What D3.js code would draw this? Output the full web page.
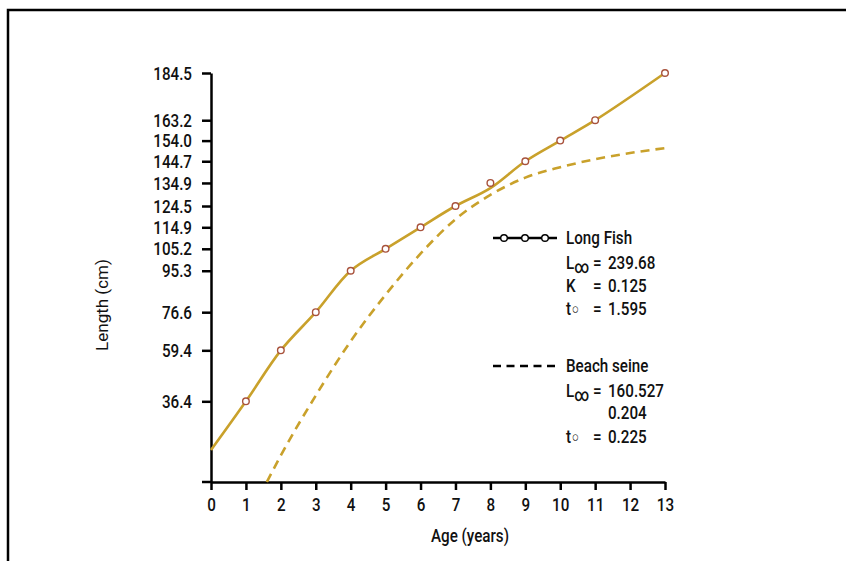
<!DOCTYPE html>
<html>
<head>
<meta charset="utf-8">
<script src="https://cdn.jsdelivr.net/npm/d3@7"></script>
<style>
  body { margin: 0; background: #fff; }
  svg text { font-family: Roboto, "Liberation Sans", Arial, sans-serif; font-weight: 500; fill: #111; }
</style>
</head>
<body>
<svg id="chart" width="846" height="561"></svg>
<script>
// Long Fish observed lengths (markers) - these are also the y tick values
const fishAges = [1, 2, 3, 4, 5, 6, 7, 8, 9, 10, 11, 13];
const fishLengths = [36.4, 59.4, 76.6, 95.3, 105.2, 114.9, 124.5, 134.9, 144.7, 154.0, 163.2, 184.5];

// Long Fish drawn curve
const fishLineAges = [0, 1, 2, 3, 4, 5, 6, 7, 8, 9, 10, 11, 13];
const fishLineLengths = [14.4, 36.4, 59.4, 76.6, 95.3, 105.2, 114.9, 124.5, 132.6, 144.7, 154.0, 163.2, 184.5];

// Beach seine curve
const seineAges = [1.6, 2, 3, 4, 5, 6, 7, 8, 9, 10, 11, 12, 13];
const seineLengths = [0, 12, 39, 63.5, 84.5, 103, 118.5, 129.5, 137.3, 142, 145.6, 148.4, 150.6];

const yTicks = [36.4, 59.4, 76.6, 95.3, 105.2, 114.9, 124.5, 134.9, 144.7, 154.0, 163.2, 184.5];
const xTicks = d3.range(0, 14);

const svg = d3.select("#chart");
const goldColor = "#c9a12b";
const markerColor = "#a8523c";
const fontSize = "19px";
const squeeze = 0.8; // fake a condensed face, no narrow font installed

// squeeze a text element horizontally while keeping it anchored at xPos
function narrow(sel, xPos) {
    sel.attr("x", xPos / squeeze).attr("transform", "scale(" + squeeze + ",1)");
    return sel;
}

// frame
svg.append("path")
    .attr("d", "M8,570 L8,10 L860,10")
    .attr("fill", "none")
    .attr("stroke", "#000")
    .attr("stroke-width", 2.5);

const x = d3.scaleLinear().domain([0, 13]).range([211, 665]);
const y = d3.scaleLinear().domain([0, 184.5]).range([482, 73]);

// axes
const yAxis = svg.append("g")
    .attr("transform", "translate(" + x(0) + ",0)")
    .call(d3.axisLeft(y).tickValues(yTicks).tickFormat(d3.format(".1f")).tickSize(9).tickPadding(10).tickSizeOuter(0));

const xAxis = svg.append("g")
    .attr("transform", "translate(0," + y(0) + ")")
    .call(d3.axisBottom(x).tickValues(xTicks).tickSize(8).tickPadding(8).tickSizeOuter(0));

// x axis line runs a little past the y axis
svg.append("line")
    .attr("x1", x(0) - 9).attr("x2", x(0))
    .attr("y1", y(0)).attr("y2", y(0))
    .attr("stroke", "#000").attr("stroke-width", 2.5);

[yAxis, xAxis].forEach(function(g) {
    g.selectAll("path, line").attr("stroke", "#000").attr("stroke-width", 2.5);
    g.selectAll("text").attr("font-size", fontSize)
        .style("font-family", "Roboto, 'Liberation Sans', Arial, sans-serif")
        .attr("fill", "#111");
});
yAxis.selectAll("text").each(function() {
    narrow(d3.select(this), -19);
});
xAxis.selectAll("text").attr("transform", "scale(" + squeeze + ",1)");

// axis titles
narrow(svg.append("text"), 470)
    .attr("y", 542)
    .attr("text-anchor", "middle")
    .attr("font-size", fontSize)
    .text("Age (years)");

svg.append("text")
    .attr("transform", "translate(108,305) rotate(-90)")
    .attr("text-anchor", "middle")
    .attr("font-size", "17px")
    .style("font-weight", 400)
    .text("Length (cm)");

// curves
const seineLine = d3.line()
    .x((d, i) => x(seineAges[i]))
    .y(d => y(d))
    .curve(d3.curveMonotoneX);

svg.append("path")
    .datum(seineLengths)
    .attr("d", seineLine)
    .attr("fill", "none")
    .attr("stroke", goldColor)
    .attr("stroke-width", 2.6)
    .attr("stroke-dasharray", "9,6");

const fishLine = d3.line()
    .x((d, i) => x(fishLineAges[i]))
    .y(d => y(d))
    .curve(d3.curveCatmullRom.alpha(0.5));

svg.append("path")
    .datum(fishLineLengths)
    .attr("d", fishLine)
    .attr("fill", "none")
    .attr("stroke", goldColor)
    .attr("stroke-width", 2.6);

svg.selectAll(".marker")
    .data(fishLengths)
    .enter()
    .append("circle")
    .attr("class", "marker")
    .attr("cx", (d, i) => x(fishAges[i]))
    .attr("cy", d => y(d))
    .attr("r", 3.3)
    .attr("fill", "#fff")
    .attr("stroke", markerColor)
    .attr("stroke-width", 1.4);

// legend
const legend = svg.append("g");
legend.append("line")
    .attr("x1", 493).attr("x2", 557).attr("y1", 238).attr("y2", 238)
    .attr("stroke", "#000").attr("stroke-width", 2.5);
[504, 525, 545].forEach(function(cx) {
    legend.append("circle")
        .attr("cx", cx).attr("cy", 238).attr("r", 3.3)
        .attr("fill", "#fff").attr("stroke", "#000").attr("stroke-width", 1.4);
});
legend.append("line")
    .attr("x1", 493).attr("x2", 557).attr("y1", 366).attr("y2", 366)
    .attr("stroke", "#000").attr("stroke-width", 2.5)
    .attr("stroke-dasharray", "8,5.5");

function addParam(yPos, label, sub, value) {
    if (label) {
        const t = narrow(legend.append("text"), 566).attr("y", yPos).attr("font-size", fontSize);
        t.append("tspan").text(label);
        if (sub === "inf") {
            t.append("tspan").attr("font-size", "18px").attr("dy", 4).text("\u221E");
        } else if (sub === "o") {
            t.append("tspan").attr("font-size", "15px").attr("dx", 1).attr("dy", -1).style("font-weight", 400).text("\u25CB");
        }
        narrow(legend.append("text"), 593).attr("y", yPos).attr("font-size", fontSize).text("=");
    }
    narrow(legend.append("text"), 608).attr("y", yPos).attr("font-size", fontSize).text(value);
}

narrow(legend.append("text"), 566).attr("y", 244).attr("font-size", fontSize).text("Long Fish");
addParam(269, "L", "inf", "239.68");
addParam(292, "K", null, "0.125");
addParam(315, "t", "o", "1.595");

narrow(legend.append("text"), 566).attr("y", 372).attr("font-size", fontSize).text("Beach seine");
addParam(397, "L", "inf", "160.527");
addParam(419, null, null, "0.204");
addParam(443, "t", "o", "0.225");
</script>
</body>
</html>
